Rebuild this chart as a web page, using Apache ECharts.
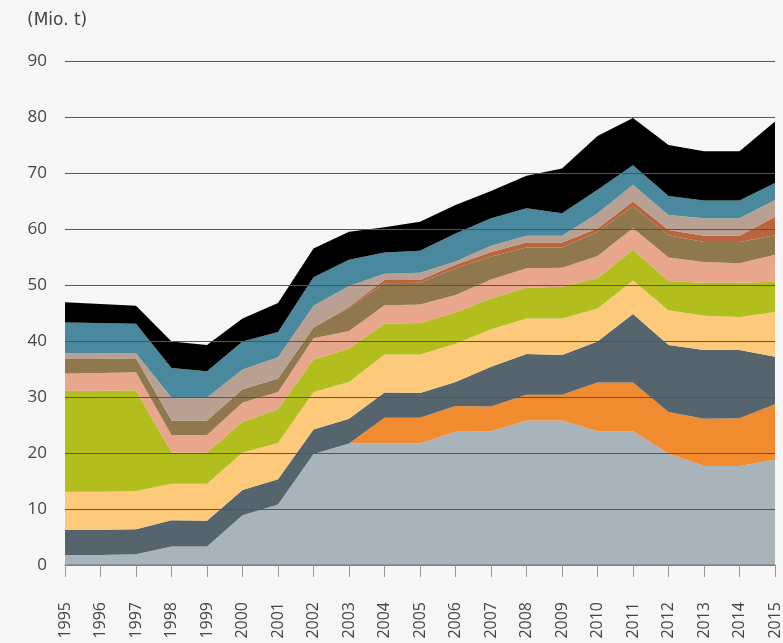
<!DOCTYPE html>
<html>
<head>
<meta charset="utf-8">
<script src="https://cdn.jsdelivr.net/npm/echarts@6/dist/echarts.min.js"></script>
<style>
  html, body { margin: 0; padding: 0; background: #f6f6f6; }
  #chart { width: 783px; height: 643px; }
</style>
</head>
<body>
<div id="chart"></div>
<script>
// Jahre
const years = ['1995','1996','1997','1998','1999','2000','2001','2002','2003','2004','2005',
  '2006','2007','2008','2009','2010','2011','2012','2013','2014','2015'];

// Schichten von unten nach oben (Mio. t)
const grey      = [1.8,1.8,1.9,3.3,3.3,8.9,10.8,19.8,21.7,21.7,21.7,23.8,23.9,25.8,25.8,23.9,23.9,19.9,17.7,17.7,18.8];
const orange    = [0,0,0,0,0,0,0,0,0,4.6,4.6,4.6,4.4,4.6,4.6,8.7,8.7,7.4,8.4,8.5,9.9];
const slate     = [4.5,4.5,4.5,4.7,4.6,4.5,4.5,4.4,4.4,4.5,4.4,4.3,7.1,7.3,7.1,7.3,12.2,12.0,12.3,12.2,8.5];
const lightOr   = [6.8,6.8,6.8,6.5,6.6,6.7,6.5,6.7,6.6,6.8,6.9,6.8,6.7,6.3,6.5,5.9,6.0,6.2,6.1,5.9,8.0];
const green     = [18.0,18.0,18.0,5.6,5.6,5.5,6.0,5.8,5.9,5.5,5.6,5.6,5.5,5.5,5.7,5.4,5.5,5.2,5.9,6.1,5.4];
const salmon    = [3.1,3.2,3.2,3.1,3.1,3.4,3.1,3.8,3.2,3.3,3.3,3.1,3.4,3.5,3.4,4.0,3.9,4.2,3.7,3.5,4.8];
const brown     = [2.6,2.5,2.5,2.6,2.6,2.4,2.4,1.9,4.1,3.9,3.9,4.8,4.1,3.7,3.6,4.3,3.8,4.0,3.6,3.8,3.5];
const redBrown  = [0,0,0,0,0,0,0,0,0.2,0.6,0.5,0.6,0.8,0.9,0.9,0.6,0.9,0.9,1.1,1.1,3.3];
const taupe     = [1.0,1.0,0.9,4.1,4.1,3.5,3.8,3.9,3.7,1.1,1.3,0.6,1.1,1.2,1.2,2.7,3.0,2.7,3.1,3.1,3.0];
const teal      = [5.5,5.4,5.3,5.3,4.7,5.0,4.5,5.1,4.7,3.8,3.9,5.0,4.9,4.9,4.0,4.2,3.5,3.4,3.2,3.2,3.0];
const black     = [3.6,3.4,3.2,4.7,4.7,4.1,5.2,5.1,5.0,4.5,5.2,5.1,4.9,5.8,8.0,9.6,8.4,9.1,8.8,8.8,11.0];

const yTicks = [0,10,20,30,40,50,60,70,80,90];

const layers = [
  [grey, '#a9b4ba'],
  [orange, '#f18b30'],
  [slate, '#56656d'],
  [lightOr, '#fdca7c'],
  [green, '#b2bd1e'],
  [salmon, '#e8a68d'],
  [brown, '#8f774e'],
  [redBrown, '#b8653f'],
  [taupe, '#b8a192'],
  [teal, '#4a889e'],
  [black, '#000000']
];

const chart = echarts.init(document.getElementById('chart'));

const font = '"Open Sans", sans-serif';

chart.setOption({
  backgroundColor: '#f6f6f6',
  animation: false,
  grid: { left: 65, right: 8, top: 61, bottom: 78, containLabel: false, outerBoundsMode: 'none' },
  graphic: [{
    type: 'text', left: 27, top: 12,
    style: { text: '(Mio. t)', fill: '#444', font: '17px "DejaVu Sans", sans-serif' }
  }],
  xAxis: {
    type: 'category',
    data: years,
    boundaryGap: false,
    z: 10,
    axisLine: { lineStyle: { color: '#8a8a8a', width: 1.5 } },
    axisTick: { show: true, length: 12, lineStyle: { color: '#999' } },
    axisLabel: { rotate: 90, margin: 37, interval: 0, color: '#444', fontSize: 16, fontFamily: font }
  },
  yAxis: {
    type: 'value',
    min: yTicks[0],
    max: yTicks[yTicks.length - 1],
    interval: 10,
    z: 10,
    axisLine: { show: false },
    axisTick: { show: false },
    axisLabel: { margin: 18, color: '#444', fontSize: 17, fontFamily: font },
    splitLine: { lineStyle: { color: '#555', width: 1 } }
  },
  series: layers.map((l, i) => ({
    type: 'line',
    name: 's' + i,
    stack: 'total',
    data: l[0],
    symbol: 'none',
    lineStyle: { width: 0 },
    areaStyle: { color: l[1], opacity: 1 },
    itemStyle: { color: l[1] }
  }))
});
</script>
</body>
</html>
